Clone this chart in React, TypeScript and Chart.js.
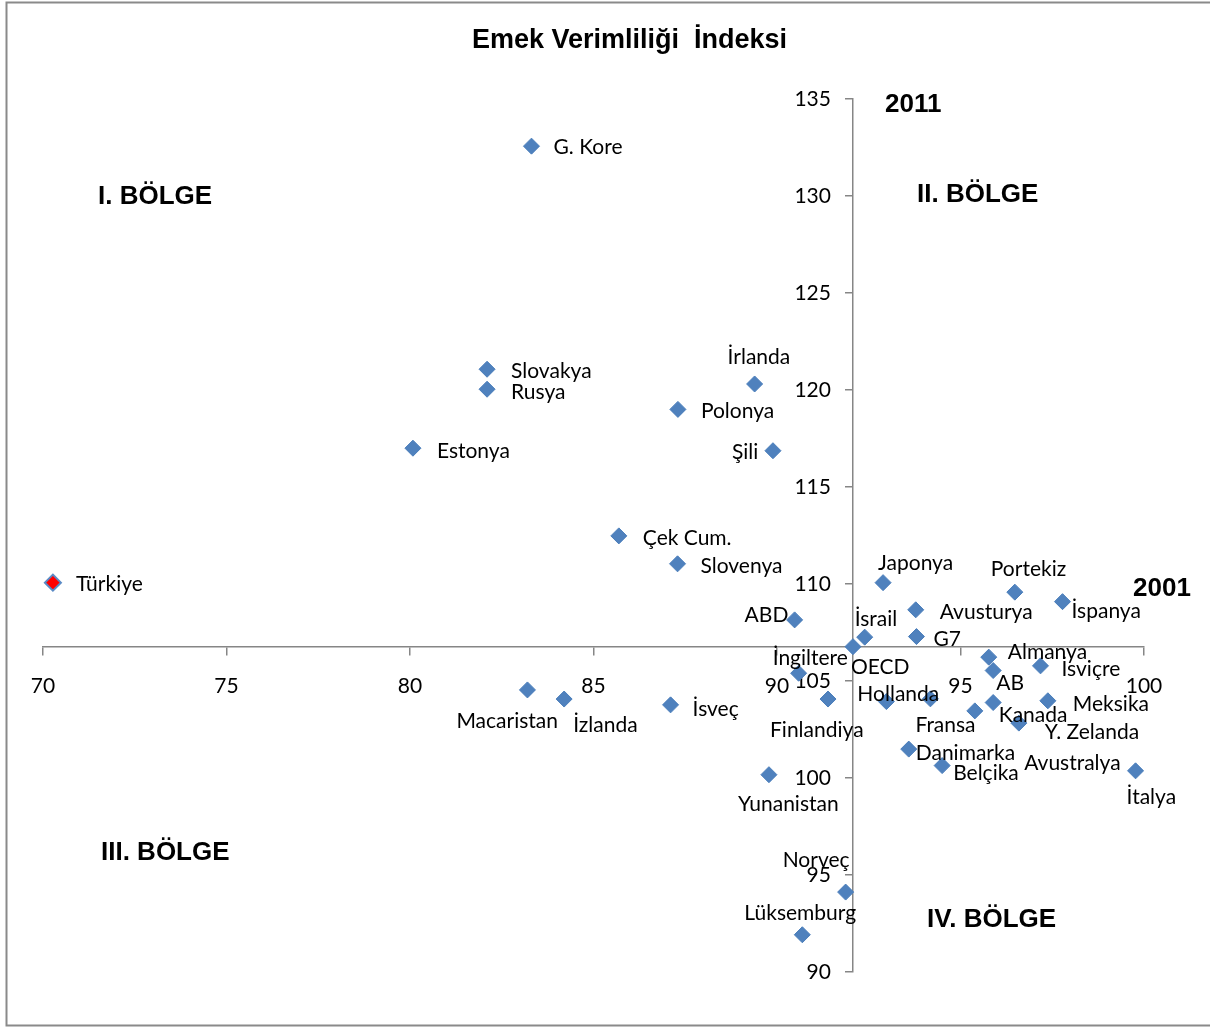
import React, { useEffect, useRef } from 'react';
import { Chart, registerables } from 'chart.js';

Chart.register(...registerables);

// ---- Data ----
const countries = [
  'G. Kore', 'Slovakya', 'Rusya', 'Estonya', 'İrlanda', 'Polonya', 'Şili', 'Çek Cum.', 'Slovenya',
  'Türkiye', 'ABD', 'Japonya', 'İsrail', 'OECD', 'Avusturya', 'G7', 'Portekiz', 'İspanya',
  'İngiltere', 'Finlandiya', 'Yunanistan', 'Macaristan', 'İzlanda', 'İsveç', 'Norveç', 'Lüksemburg',
  'Hollanda', 'Fransa', 'Almanya', 'AB', 'İsviçre', 'Kanada', 'Avustralya', 'Meksika', 'Y. Zelanda',
  'Danimarka', 'Belçika', 'İtalya',
];
const index2001 = [
  83.31, 82.10, 82.10, 80.08, 89.39, 87.30, 89.89, 85.69, 87.29,
  70.27, 90.48, 92.89, 92.39, 92.07, 93.78, 93.80, 96.48, 97.78,
  90.59, 91.39, 89.78, 83.20, 84.20, 87.10, 91.87, 90.69,
  92.98, 94.18, 95.77, 95.89, 97.18, 95.39, 95.89, 97.38, 96.59,
  93.59, 94.50, 99.77,
];
const index2011 = [
  132.57, 121.07, 120.04, 117.00, 120.31, 119.00, 116.87, 112.48, 111.04,
  110.07, 108.15, 110.07, 107.26, 106.77, 108.67, 107.29, 109.58, 109.09,
  105.40, 104.07, 100.17, 104.54, 104.07, 103.77, 94.12, 91.92,
  103.94, 104.08, 106.23, 105.54, 105.78, 103.46, 103.89, 103.98, 102.83,
  101.49, 100.64, 100.37,
];
const highlightCountry = 'Türkiye';
const crossCountry = 'OECD';
const xMin = 70;
const xMax = 100;
const yMin = 90;
const yMax = 135;
const tickStep = 5;

const titleText = 'Emek Verimliliği  İndeksi';
const regionLabels = ['I. BÖLGE', 'II. BÖLGE', 'III. BÖLGE', 'IV. BÖLGE'];
const axisYearLabels = ['2011', '2001'];

// ---- Layout (label offsets in px from each point: left edge of text, vertical middle) ----
const labelOffsets: Record<string, [number, number]> = {
  'G. Kore': [22, 1], 'Slovakya': [24, 2], 'Rusya': [24, 3], 'Estonya': [24, 3],
  'İrlanda': [-27, -27], 'Polonya': [23, 2], 'Şili': [-41, 2], 'Çek Cum.': [24, 2],
  'Slovenya': [23, 2], 'Türkiye': [23, 2], 'ABD': [-50, -5], 'Japonya': [-5, -19],
  'İsrail': [-10, -18], 'OECD': [-2, 21], 'Avusturya': [24, 2], 'G7': [17, 3],
  'Portekiz': [-24, -23], 'İspanya': [9, 10], 'İngiltere': [-26, -15], 'Finlandiya': [-58, 31],
  'Yunanistan': [-31, 30], 'Macaristan': [-71, 31], 'İzlanda': [9, 26], 'İsveç': [22, 4],
  'Norveç': [-63, -32], 'Lüksemburg': [-58, -22], 'Hollanda': [-29, -7], 'Fransa': [-15, 26],
  'Almanya': [19, -5], 'AB': [3, 13], 'İsviçre': [21, 3], 'Kanada': [24, 4],
  'Avustralya': [31, 61], 'Meksika': [25, 3], 'Y. Zelanda': [26, 9], 'Danimarka': [7, 4],
  'Belçika': [11, 8], 'İtalya': [-9, 26],
};
const regionLabelPos: [number, number][] = [[98, 197], [917, 195], [101, 853], [927, 920]];
const yearLabelPos: [number, number][] = [[885, 105], [1133, 589]];

const W = 1210;
const H = 1027;
const LABEL_FONT = '21px Lato';
const BOLD_FONT = 'bold 26px "Liberation Sans", Arial, sans-serif';
const TITLE_FONT = 'bold 27px "Liberation Sans", Arial, sans-serif';
const AXIS_COLOR = '#868686';

export default function App() {
  const ref = useRef<HTMLCanvasElement>(null);

  useEffect(() => {
    const canvas = ref.current;
    if (!canvas) return;
    const ci = countries.indexOf(crossCountry);
    const crossX = index2001[ci];
    const crossY = index2011[ci];
    const yLabelAxisX = crossX - 0.6;

    const decor = {
      id: 'decor',
      beforeDraw(chart: any) {
        const ctx = chart.ctx;
        ctx.save();
        ctx.fillStyle = '#ffffff';
        ctx.fillRect(0, 0, W, H);
        ctx.strokeStyle = '#8a8a8a';
        ctx.lineWidth = 2;
        ctx.beginPath();
        ctx.moveTo(W + 5, 2.5);
        ctx.lineTo(6.5, 2.5);
        ctx.lineTo(6.5, 1025.5);
        ctx.lineTo(W + 5, 1025.5);
        ctx.stroke();
        ctx.restore();
      },
      afterDatasetsDraw(chart: any) {
        const ctx = chart.ctx;
        const meta = chart.getDatasetMeta(0);
        ctx.save();
        ctx.fillStyle = '#000000';
        ctx.textBaseline = 'middle';
        ctx.textAlign = 'left';
        ctx.font = LABEL_FONT;
        countries.forEach((c, i) => {
          const el = meta.data[i];
          const off = labelOffsets[c] || [22, 2];
          ctx.fillText(c, el.x + off[0], el.y + off[1]);
        });
        ctx.font = BOLD_FONT;
        regionLabels.forEach((t, i) => ctx.fillText(t, regionLabelPos[i][0], regionLabelPos[i][1]));
        axisYearLabels.forEach((t, i) => ctx.fillText(t, yearLabelPos[i][0], yearLabelPos[i][1]));
        ctx.textAlign = 'center';
        ctx.font = TITLE_FONT;
        ctx.fillText(titleText, 629.5, 41);
        ctx.restore();
      },
    };

    const chart = new Chart(canvas, {
      type: 'scatter',
      data: {
        datasets: [
          {
            data: countries.map((_, i) => ({ x: index2001[i], y: index2011[i] })),
            pointStyle: 'rectRot',
            pointRadius: 8,
            pointHoverRadius: 8,
            pointBackgroundColor: countries.map((c) => (c === highlightCountry ? '#FF0000' : '#4F81BD')),
            pointBorderColor: countries.map((c) => (c === highlightCountry ? '#5B8BC6' : '#4A7EBB')),
            pointBorderWidth: countries.map((c) => (c === highlightCountry ? 2 : 1)),
            xAxisID: 'x',
            yAxisID: 'y',
          } as any,
        ],
      },
      options: {
        animation: false,
        responsive: false,
        events: [],
        layout: { padding: { left: 43, right: 66, top: 99, bottom: 55 } },
        plugins: { legend: { display: false }, tooltip: { enabled: false }, title: { display: false } },
        scales: {
          x: {
            type: 'linear',
            min: xMin,
            max: xMax,
            position: { y: crossY } as any,
            ticks: { stepSize: tickStep, padding: 19, color: '#000', font: { family: 'Lato', size: 21 }, maxRotation: 0 },
            grid: { drawOnChartArea: false, drawTicks: true, tickLength: 8, color: AXIS_COLOR, lineWidth: 1.5 },
            border: { display: true, color: AXIS_COLOR, width: 1.5 },
          },
          y: {
            type: 'linear',
            min: yMin,
            max: yMax,
            position: { x: crossX } as any,
            ticks: { stepSize: tickStep, display: false },
            grid: { drawOnChartArea: false, drawTicks: true, tickLength: 7, color: AXIS_COLOR, lineWidth: 1.5 },
            border: { display: true, color: AXIS_COLOR, width: 1.5 },
          },
          yText: {
            axis: 'y',
            type: 'linear',
            min: yMin,
            max: yMax,
            position: { x: yLabelAxisX } as any,
            ticks: { stepSize: tickStep, color: '#000', font: { family: 'Lato', size: 21 } },
            grid: { display: false },
            border: { display: false },
          } as any,
        },
      },
      plugins: [decor],
    });
    return () => chart.destroy();
  }, []);

  return (
    <div style={{ position: 'absolute', left: 0, top: 0, width: W, height: H, background: '#fff' }}>
      <canvas ref={ref} width={W} height={H} style={{ display: 'block' }} />
    </div>
  );
}
